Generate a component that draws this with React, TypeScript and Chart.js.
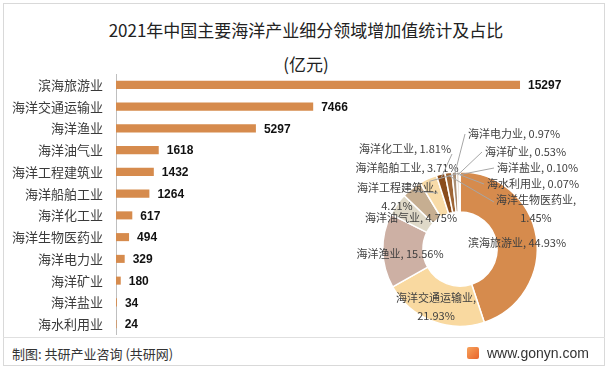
import React, { useEffect, useRef } from "react";
import { Chart, registerables } from "chart.js";

Chart.register(...registerables);

const categories = [
  "滨海旅游业",
  "海洋交通运输业",
  "海洋渔业",
  "海洋油气业",
  "海洋工程建筑业",
  "海洋船舶工业",
  "海洋化工业",
  "海洋生物医药业",
  "海洋电力业",
  "海洋矿业",
  "海洋盐业",
  "海水利用业",
];
const values = [15297, 7466, 5297, 1618, 1432, 1264, 617, 494, 329, 180, 34, 24];
const shares = [44.93, 21.93, 15.56, 4.75, 4.21, 3.71, 1.81, 1.45, 0.97, 0.53, 0.1, 0.07];

const BAR_COLOR = "#D68B4D";
const sliceColors = [
  "#D68B4D",
  "#F9D9A0",
  "#CDB0A4",
  "#DFD9C8",
  "#C6AE91",
  "#F8DBA8",
  "#8A4C1C",
  "#9E6535",
  "#A88C72",
  "#C9AC8C",
  "#E2C8A4",
  "#EEE1D0",
];

// label layout offsets relative to doughnut centre (styling only)
const donutLabelLayout = [
  { dx: 57, dy: -6, align: "center", split: false, leader: false },
  { dx: -24, dy: 49, align: "center", split: true, leader: false },
  { dx: -60, dy: 5, align: "center", split: false, leader: false },
  { dx: -49, dy: -31, align: "center", split: false, leader: false },
  { dx: -63, dy: -61, align: "center", split: true, leader: true },
  { dx: -53, dy: -81, align: "center", split: false, leader: true },
  { dx: -55, dy: -100, align: "center", split: false, leader: true },
  { dx: 76, dy: -49, align: "center", split: true, leader: true },
  { dx: 8, dy: -115, align: "left", split: false, leader: true },
  { dx: 25, dy: -97, align: "left", split: false, leader: true },
  { dx: 37, dy: -81, align: "left", split: false, leader: true },
  { dx: 27, dy: -65, align: "left", split: false, leader: true },
];

const CJK = "'Noto Sans CJK SC', 'Noto Sans', sans-serif";

const fmtShare = (v: number) => v.toFixed(2) + "%";

const barValuePlugin = {
  id: "barValues",
  afterDatasetsDraw(chart: any) {
    const ctx = chart.ctx;
    const meta = chart.getDatasetMeta(0);
    ctx.save();
    ctx.font = "bold 12px 'Liberation Sans', Arial, sans-serif";
    ctx.fillStyle = "#111111";
    ctx.textAlign = "left";
    ctx.textBaseline = "middle";
    meta.data.forEach((bar: any, i: number) => {
      ctx.fillText(String(values[i]), bar.x + 8, bar.y + 1);
    });
    ctx.restore();
  },
};

const donutLabelPlugin = {
  id: "donutLabels",
  afterDraw(chart: any) {
    const ctx = chart.ctx;
    const meta = chart.getDatasetMeta(0);
    ctx.save();
    ctx.font = `11px ${CJK}`;
    ctx.textBaseline = "middle";
    const lineH = 18;
    meta.data.forEach((arc: any, i: number) => {
      const lay = donutLabelLayout[i];
      const { x, y, startAngle, endAngle, outerRadius } = arc.getProps(
        ["x", "y", "startAngle", "endAngle", "outerRadius"],
        true
      );
      const lines = lay.split
        ? [categories[i] + ",", fmtShare(shares[i])]
        : [categories[i] + ", " + fmtShare(shares[i])];
      const lx = x + lay.dx;
      const ly = y + lay.dy;
      const widths = lines.map((t) => ctx.measureText(t).width);
      const w0 = widths[0];
      if (lay.leader) {
        const mid = (startAngle + endAngle) / 2;
        const r = outerRadius - 3;
        const px = x + Math.cos(mid) * r;
        const py = y + Math.sin(mid) * r;
        let ax: number;
        let ay = ly;
        if (lay.align === "left") {
          ax = lx - 3;
        } else if (lay.dx < 0) {
          ax = lx + w0 / 2 + 1;
          ay = ly + 5;
        } else {
          ax = lx - w0 / 2 - 2;
          ay = ly + 2;
        }
        ctx.strokeStyle = "#A6A6A6";
        ctx.lineWidth = 1;
        ctx.beginPath();
        ctx.moveTo(ax, ay);
        ctx.lineTo(px, py);
        ctx.stroke();
      }
      ctx.fillStyle = "#404040";
      ctx.textAlign = lay.align === "left" ? "left" : "center";
      lines.forEach((t, k) => ctx.fillText(t, lx, ly + k * lineH));
    });
    ctx.restore();
  },
};

export default function App() {
  const barRef = useRef<HTMLCanvasElement | null>(null);
  const donutRef = useRef<HTMLCanvasElement | null>(null);

  useEffect(() => {
    const bar = new Chart(barRef.current as HTMLCanvasElement, {
      type: "bar",
      data: {
        labels: categories,
        datasets: [
          {
            data: values,
            backgroundColor: BAR_COLOR,
            barPercentage: 0.37,
            categoryPercentage: 1,
          },
        ],
      },
      options: {
        indexAxis: "y",
        animation: false,
        responsive: false,
        maintainAspectRatio: false,
        layout: { padding: { left: 0, right: 47, top: 0, bottom: 0 } },
        plugins: { legend: { display: false }, tooltip: { enabled: false }, title: { display: false } },
        scales: {
          x: { display: false, min: 0, max: 17000 },
          y: {
            grid: { display: true, color: "rgba(0,0,0,0)", drawTicks: false },
            border: { display: true, color: "#BFBFBF", width: 1 },
            ticks: {
              color: "#3a3a3a",
              font: { family: CJK, size: 13 },
              padding: 13,
            },
            afterFit(scale: any) {
              scale.width = 116;
              scale.paddingTop = 0;
              scale.paddingBottom = 0;
            },
          },
        },
      },
      plugins: [barValuePlugin],
    } as any);

    const donut = new Chart(donutRef.current as HTMLCanvasElement, {
      type: "doughnut",
      data: {
        labels: categories,
        datasets: [
          {
            data: shares,
            backgroundColor: sliceColors,
            borderColor: "#FFFFFF",
            borderWidth: 1.5,
          },
        ],
      },
      options: {
        animation: false,
        responsive: false,
        maintainAspectRatio: false,
        cutout: "48%",
        layout: { padding: { left: 52, top: 56, right: 67, bottom: 8 } },
        plugins: { legend: { display: false }, tooltip: { enabled: false } },
      },
      plugins: [donutLabelPlugin],
    } as any);

    return () => {
      bar.destroy();
      donut.destroy();
    };
  }, []);

  return (
    <div
      style={{
        position: "fixed",
        left: 0,
        top: 0,
        width: 612,
        height: 370,
        background: "#FFFFFF",
        overflow: "hidden",
        fontFamily: CJK,
      }}
    >
      <div
        style={{
          position: "absolute",
          left: 3,
          top: 3,
          width: 602,
          height: 363,
          boxSizing: "border-box",
          border: "1px solid #D9D9D9",
        }}
      />
      <div
        style={{
          position: "absolute",
          left: 0,
          top: 13,
          width: 612,
          textAlign: "center",
          fontSize: 17,
          lineHeight: "34px",
          color: "#222222",
        }}
      >
        <div>2021年中国主要海洋产业细分领域增加值统计及占比</div>
        <div>(亿元)</div>
      </div>
      <canvas
        ref={barRef}
        width={612}
        height={261}
        style={{ position: "absolute", left: 0, top: 74, width: 612, height: 261 }}
      />
      <canvas
        ref={donutRef}
        width={275}
        height={220}
        style={{ position: "absolute", left: 330, top: 115, width: 275, height: 220 }}
      />
      <div
        style={{
          position: "absolute",
          left: 3,
          top: 337,
          width: 602,
          height: 1,
          background: "#E0E0E0",
        }}
      />
      <div
        style={{
          position: "absolute",
          left: 12,
          top: 344,
          fontSize: 13,
          lineHeight: "20px",
          color: "#333333",
        }}
      >
        制图: 共研产业咨询 (共研网)
      </div>
      <div
        style={{
          position: "absolute",
          left: 467,
          top: 347,
          width: 12,
          height: 12,
          borderRadius: 2,
          background: "linear-gradient(135deg, #F7A35C, #E8632B)",
        }}
      />
      <div
        style={{
          position: "absolute",
          left: 487,
          top: 343,
          fontSize: 14,
          lineHeight: "20px",
          color: "#333333",
          fontFamily: "'Liberation Sans', Arial, sans-serif",
        }}
      >
        www.gonyn.com
      </div>
    </div>
  );
}
